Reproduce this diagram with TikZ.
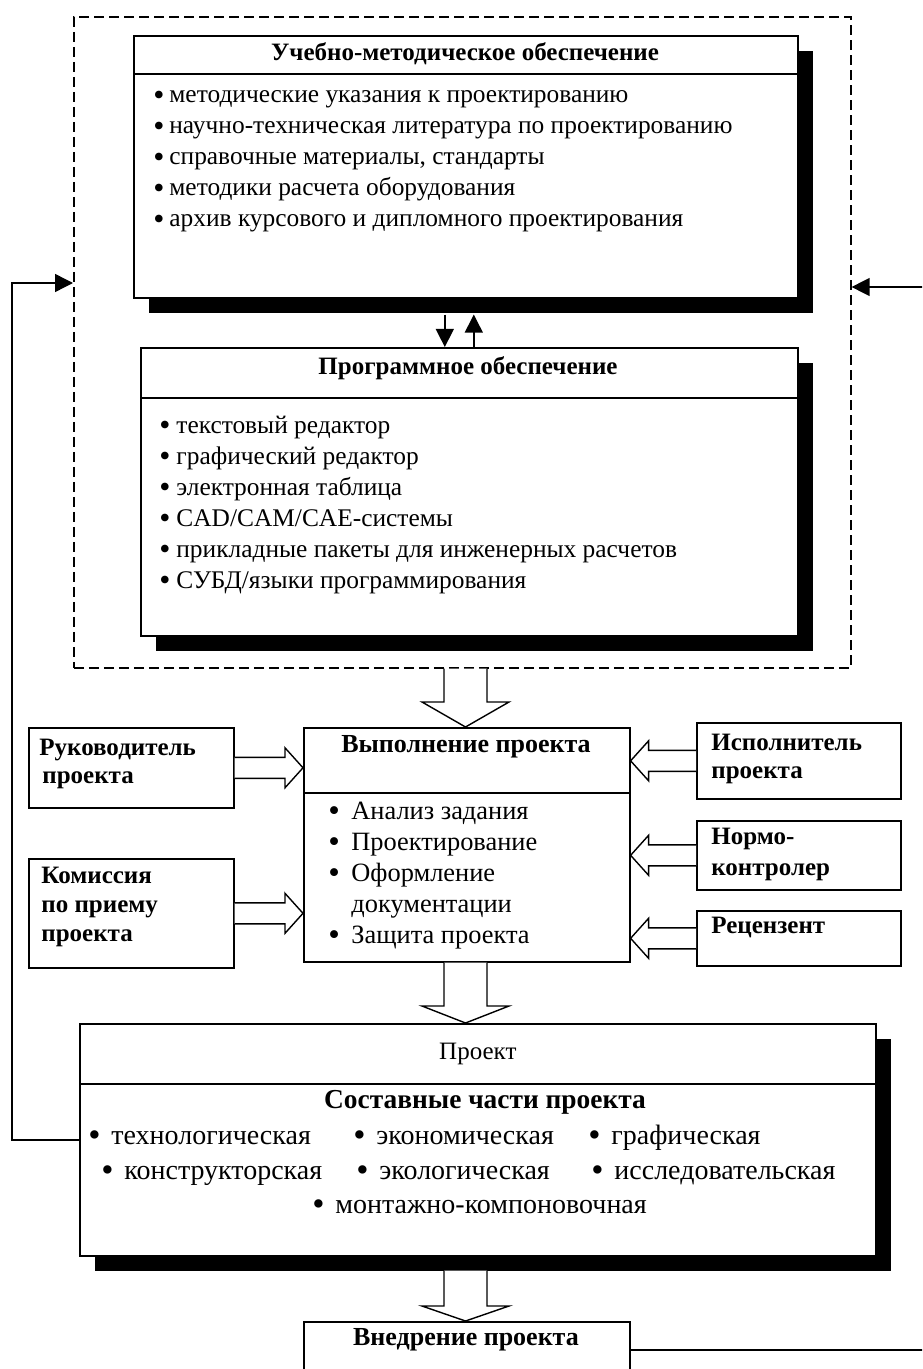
\documentclass[tikz,border=0pt]{standalone}
\usepackage{fontspec}
\setmainfont{Liberation Serif}
\usetikzlibrary{arrows.meta,calc,shadows}

\newcommand\bul[1][11.5pt]{\makebox[#1][l]{\raisebox{-0.09em}{\scalebox{1.25}{•}}}}
\newcommand\fatdown[3]{\draw[fatarrow] ($(#1)+(-21.5,0)$) -- ($(#2)+(-21.5,-#3)$) -- ($(#2)+(-43.5,-#3)$) -- (#2) -- ($(#2)+(43.5,-#3)$) -- ($(#2)+(21.5,-#3)$) -- ($(#1)+(21.5,0)$);}
\newcommand\fatside[3]{\draw[fatarrow] ($(#1)+(0,-10.5)$) -- ($(#2)+({-18*#3},-10.5)$) -- ($(#2)+({-18*#3},-20)$) -- (#2) -- ($(#2)+({-18*#3},20)$) -- ($(#2)+({-18*#3},10.5)$) -- ($(#1)+(0,10.5)$);}

\begin{document}
\begin{tikzpicture}[x=0.5pt,y=-0.5pt,
    box/.style={draw,fill=white,line width=0.8pt,inner sep=0pt,anchor=north west},
    shade/.style={drop shadow={shadow xshift=7.5pt,shadow yshift=-7.5pt,opacity=1,fill=black}},
    dashbox/.style={draw,line width=0.8pt,dash pattern=on 5pt off 2.5pt,inner sep=0pt,anchor=north west},
    who/.style={anchor=base west,inner sep=0pt,font=\fontsize{12.5}{14}\selectfont\bfseries},
    title/.style={inner sep=0pt,font=\fontsize{12.5}{14}\selectfont\bfseries},
    item/.style={anchor=base west,inner sep=0pt,font=\fontsize{12.7}{14}\selectfont},
    bigitem/.style={item,font=\fontsize{13.2}{15}\selectfont},
    arr/.style={line width=0.7pt,-{Triangle[length=9pt,width=9pt]}},
    fatarrow/.style={draw,fill=white,line width=0.7pt}]
  \useasboundingbox (0,0) rectangle (922,1369);
  \clip (0,0) rectangle (922,1369);

  \node[dashbox,minimum width=388.5pt,minimum height=325.5pt] (dash) at (73,16) {};

  \node[box,shade,minimum width=332pt,minimum height=131pt] (umo) at (133,35) {};
  \node[box,minimum width=332pt,minimum height=19pt] (umohead) at (umo.north west) {};
  \node[title] (umotitle) at (465,54) {Учебно-методическое обеспечение};
  \foreach \t [count=\i from 0] in {методические указания к проектированию,научно-техническая литература по проектированию,{справочные материалы, стандарты},методики расчета оборудования,архив курсового и дипломного проектирования}
    \node[item] (umo-\i) at (153,103+31*\i) {\bul[8pt]\t};

  \node[box,shade,minimum width=328.5pt,minimum height=144pt] (po) at (140,347) {};
  \node[box,minimum width=328.5pt,minimum height=25pt] (pohead) at (po.north west) {};
  \node[title] (potitle) at (468,368) {Программное обеспечение};
  \foreach \t [count=\i from 0] in {текстовый редактор,графический редактор,электронная таблица,CAD/CAM/CAE-системы,прикладные пакеты для инженерных расчетов,СУБД/языки программирования}
    \node[item] (po-\i) at (159,433+31*\i) {\bul[8.5pt]\t};

  \coordinate (dn) at ($(umo.south)+(-21,16)$);
  \coordinate (up) at ($(umo.south)+(8,16)$);
  \draw[arr] (dn) -- (dn |- po.north);
  \draw[arr] (up |- po.north) -- (up);

  \node[box,minimum width=163pt,minimum height=117pt] (exec) at (303,727) {};
  \node[box,minimum width=163pt,minimum height=32.5pt] (exechead) at (exec.north west) {};
  \node[title,font=\fontsize{13}{14}\selectfont\bfseries] (exectitle) at (466,747) {Выполнение проекта};
  \foreach \t [count=\i from 0] in {\bul Анализ задания,\bul Проектирование,\bul Оформление,\hspace{11.5pt}документации,\bul Защита проекта}
    \node[bigitem] (exec-\i) at (328,819+31*\i) {\t};

  \node[box,minimum width=102.5pt,minimum height=40pt] (ruk) at (28,727) {};
  \node[box,minimum width=102.5pt,minimum height=54.5pt] (kom) at (28,858) {};
  \node[box,minimum width=102pt,minimum height=38pt] (isp) at (696,722) {};
  \node[box,minimum width=102pt,minimum height=34.5pt] (norm) at (696,820) {};
  \node[box,minimum width=102pt,minimum height=27.5pt] (rec) at (696,910) {};
  \foreach \x/\y/\t [count=\i] in {39/755/Руководитель,42/783/проекта,41/883/Комиссия,41/912/по приему,41/941/проекта,711/750/Исполнитель,711/778/проекта,711/844/Нормо-,711/875/контролер,711/933/Рецензент}
    \node[who] (who-\i) at (\x,\y) {\t};

  \node[box,shade,minimum width=398pt,minimum height=116pt] (proj) at (79,1023) {};
  \node[box,minimum width=398pt,minimum height=30pt,font=\fontsize{12.5}{14}\selectfont] (projhead) at (proj.north west) {Проект};
  \node[title,font=\fontsize{13.7}{16}\selectfont\bfseries] (projtitle) at (485,1102) {Составные части проекта};
  \foreach \x/\y/\t [count=\i] in {88/1144/технологическая,353/1144/экономическая,588/1144/графическая,101/1179/конструкторская,356/1179/экологическая,591/1179/исследовательская,312/1213/монтажно-компоновочная}
    \node[bigitem,font=\fontsize{14}{16}\selectfont] (part-\i) at (\x,\y) {\bul\t};

  \node[box,minimum width=163pt,minimum height=28pt] (vnedr) at (303,1321) {};
  \node[title,font=\fontsize{13}{14}\selectfont\bfseries] (vnedrtitle) at (466,1340) {Внедрение проекта};

  \coordinate (axis) at (465.5,0);
  \coordinate (a1s) at (axis |- dash.south);
  \coordinate (a1t) at (axis |- exec.north);
  \coordinate (a2s) at (axis |- exec.south);
  \coordinate (a2t) at (axis |- proj.north);
  \coordinate (a3s) at ($(axis |- proj.south)+(0,14)$);
  \coordinate (a3t) at (axis |- vnedr.north);
  \fatdown{a1s}{a1t}{25}
  \fatdown{a2s}{a2t}{17}
  \fatdown{a3s}{a3t}{15}
  \foreach \n in {ruk,kom}{
    \coordinate (\n-tip) at (exec.west |- \n.east);
    \fatside{\n.east}{\n-tip}{1}
  }
  \foreach \n in {isp,norm,rec}{
    \coordinate (\n-tip) at (exec.east |- \n.west);
    \fatside{\n.west}{\n-tip}{-1}
  }

  \coordinate (fbl) at (12,283);
  \coordinate (fbr) at (940,287);
  \draw[arr] (proj.west) -| (fbl) -- (fbl -| dash.west);
  \draw[arr] (vnedr.east) -| (fbr) -- (fbr -| dash.east);
\end{tikzpicture}
\end{document}
